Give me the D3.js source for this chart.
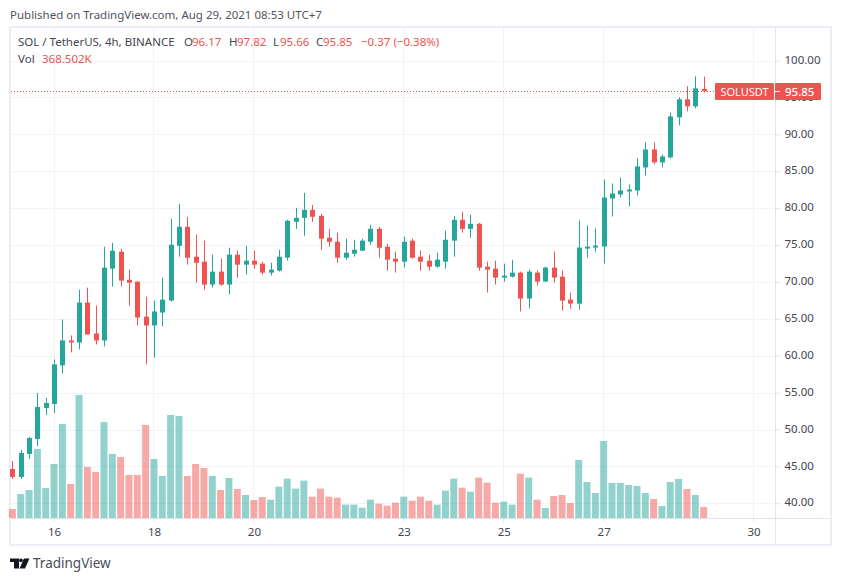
<!DOCTYPE html>
<html>
<head>
<meta charset="utf-8">
<script src="https://cdn.jsdelivr.net/npm/d3@7/dist/d3.min.js"></script>
<style>
  html, body { margin: 0; padding: 0; background: #fff; }
  svg { display: block; }
  text { font-family: "Noto Sans", sans-serif; }
</style>
</head>
<body>
<div id="chart"></div>
<script>
var opens = [44.65,43.57,46.69,48.72,52.92,53.46,58.69,62.07,61.8,67.2,63.02,62.07,71.8,74.1,70.3,70.05,65.3,64.1,65.86,67.48,74.9,77.48,73.42,72.75,69.64,71.4,69.64,73.7,72.34,72.88,72.48,71.26,71.53,73.29,78.15,78.69,79.77,78.96,76,75.45,73.29,73.83,74.23,75.45,77.2,74.77,73.15,72.75,75.6,73.42,72.88,72.07,72.75,75.6,78.42,77.2,77.88,72.07,71.8,70.59,70.72,71.26,67.75,71.27,70.05,71.95,70.72,67.6,67.06,74.52,74.66,74.8,81.31,81.86,82.26,82.4,85.52,87.96,86.2,86.88,92.31,94.75,93.8,96.17];
var highs = [45.74,47.23,48.99,54.95,54.28,59.5,64.91,62.75,68.96,69.23,66.8,74.77,75.3,74.5,71.67,70.05,68,67.48,70.6,78.56,80.58,78.83,76.4,75.6,73.7,73.15,74.64,74.23,74.9,74.23,72.75,72.6,74.37,78.42,80.05,82.07,80.45,79.23,77.2,76.67,75.86,75.72,75.86,77.75,77.48,75.18,74.1,76.13,75.86,74.23,73.69,73.96,76.94,78.96,79.5,79.1,78,72.75,72.88,72.48,73,71.4,71.67,71.54,72.08,74.12,71.54,68.55,78.33,77.65,77.24,83.9,83.35,84.16,83.21,86.74,88.91,88.91,87.29,92.99,95.02,96.52,97.87,97.82];
var lows = [43.3,43.3,46,47.77,51.97,52.24,57.6,60.45,60.86,62.88,61.53,61.26,69.37,69.37,66.8,64.1,58.83,59.77,63.96,67.34,73.42,72.34,69.9,68.96,69.23,69.5,68.3,70.6,71,71.8,70.99,70.86,71.4,72.88,77.2,76.26,78.15,74.37,74.77,72.6,73,73.42,74.23,75.05,73.29,71.53,71.26,71.94,73.15,71.53,71.53,71.94,71.8,73.42,76.67,76,71.53,68.56,69.64,70.05,70.59,66,66.4,69.5,70.05,69.9,66.1,66.38,66.24,73.3,74.12,72.49,78.87,81.45,80.23,81.72,84.43,85.93,85.52,86.74,91.22,93.12,93.53,95.66];
var closes = [43.57,46.82,48.85,53.06,53.6,58.83,62.07,61.8,67.2,62.88,62.07,71.94,74.23,70.18,69.9,65.18,64.1,66,67.6,75.05,77.48,73.29,72.6,69.64,71.4,69.64,73.7,72.34,72.88,72.34,71.26,71.67,73.42,78.29,78.69,79.77,78.83,75.86,75.45,73.29,73.96,74.37,75.6,77.2,74.64,73.02,72.75,75.45,73.29,72.75,72.07,73.02,75.72,78.42,77.2,77.88,71.94,71.67,70.59,70.86,71.26,67.75,71.4,70.05,71.95,70.59,67.47,67.06,74.66,74.8,74.93,81.45,81.99,82.4,82.53,85.66,87.96,86.2,87.01,92.44,94.75,93.8,96.24,95.85];
var volumes = [302,804,938,2312,1005,1809,3150,1139,4122,1709,1541,3217,2145,2044,1441,1441,3116,1977,1407,3452,3418,1407,1809,1675,1407,938,1340,972,771,603,704,614,1050,1318,983,1251,715,983,715,681,447,447,346,614,480,413,514,715,581,715,581,447,916,1318,1016,882,1352,1184,514,547,447,1486,1352,614,335,737,771,503,1944,1206,838,2580,1173,1173,1106,1072,838,637,402,1206,1307,972,771,368.5];

var priceTicks = [40,45,50,55,60,65,70,75,80,85,90,95,100];
var dayTicks = [5,17,29,47,59,71,89];
var dayLabels = ["16","18","20","23","25","27","30"];

var GREEN = "#26a69a", RED = "#ef5350", GRID = "#f0f3fa", FRAME = "#eceef5", LINE = "#e0e3eb", TEXT = "#434651";

var width = 841, height = 581;
var paneLeft = 10, paneRight = 831, paneTop = 27, paneBottom = 545, axisX = 775.5, axisY = 518.5;

var svg = d3.select("#chart").append("svg")
  .attr("width", width)
  .attr("height", height);

var x = d3.scaleLinear().domain([0,83]).range([12.4,703.6]);
var y = d3.scaleLinear().domain([40,100]).range([503.3,60.6]);
// volume pane shares the bottom edge, 368.5K is about 11 px
var yVol = d3.scaleLinear().domain([0,368.5]).range([axisY-0.5,axisY-11.5]);

// frame
svg.append("rect")
  .attr("x", paneLeft).attr("y", paneTop)
  .attr("width", paneRight-paneLeft).attr("height", paneBottom-paneTop)
  .attr("fill", "#fff").attr("stroke", FRAME).attr("stroke-width", 2);

// grid
svg.append("g").selectAll("line").data(priceTicks).join("line")
  .attr("x1", paneLeft+1).attr("x2", axisX)
  .attr("y1", d => Math.round(y(d))+0.5).attr("y2", d => Math.round(y(d))+0.5)
  .attr("stroke", GRID);
svg.append("g").selectAll("line").data(dayTicks).join("line")
  .attr("x1", d => Math.floor(x(d))+0.5).attr("x2", d => Math.floor(x(d))+0.5)
  .attr("y1", paneTop+1).attr("y2", axisY)
  .attr("stroke", GRID);

// volume bars
svg.append("g").selectAll("rect").data(volumes).join("rect")
  .attr("x", (d,i) => x(i)-3.5)
  .attr("y", d => yVol(d))
  .attr("width", 7)
  .attr("height", d => yVol(0)-yVol(d))
  .attr("fill", (d,i) => closes[i] >= opens[i] ? GREEN : RED)
  .attr("fill-opacity", 0.5);

// candles
var candles = svg.append("g").selectAll("g").data(d3.range(opens.length)).join("g")
  .attr("fill", i => closes[i] >= opens[i] ? GREEN : RED)
  .attr("stroke", i => closes[i] >= opens[i] ? GREEN : RED);
candles.append("line")
  .attr("x1", i => Math.round(x(i))+0.5).attr("x2", i => Math.round(x(i))+0.5)
  .attr("y1", i => y(highs[i])).attr("y2", i => y(lows[i]));
candles.append("rect")
  .attr("x", i => Math.round(x(i))-2)
  .attr("y", i => y(Math.max(opens[i],closes[i])))
  .attr("width", 5)
  .attr("height", i => Math.max(1.5, Math.abs(y(opens[i])-y(closes[i]))))
  .attr("stroke", "none");

// axes
var lastClose = closes[closes.length-1];
var yAxis = svg.append("g")
  .attr("transform", "translate(" + axisX + ",0)")
  .call(d3.axisRight(y).tickValues(priceTicks).tickSize(5).tickPadding(4).tickFormat(d3.format(".2f")));
var xAxis = svg.append("g")
  .attr("transform", "translate(0," + axisY + ")")
  .call(d3.axisBottom(x).tickValues(dayTicks).tickSize(4).tickPadding(5).tickFormat((d,i) => dayLabels[i]));
[yAxis, xAxis].forEach(a => {
  a.select(".domain").remove();
  a.selectAll("line").attr("stroke", LINE);
  a.selectAll("text").attr("fill", TEXT).style("font-size", "11.5px").style("font-family", '"Noto Sans", sans-serif');
});
yAxis.selectAll("text").attr("y", -1);
xAxis.selectAll("line").attr("transform", "translate(-0.5,0)");
svg.append("line").attr("x1", axisX).attr("x2", axisX).attr("y1", paneTop+1).attr("y2", paneBottom-1).attr("stroke", LINE);
svg.append("line").attr("x1", paneLeft+1).attr("x2", paneRight-1).attr("y1", axisY).attr("y2", axisY).attr("stroke", LINE);

// last price line and labels
svg.append("line")
  .attr("x1", paneLeft+1).attr("x2", 715)
  .attr("y1", Math.round(y(lastClose))+0.5).attr("y2", Math.round(y(lastClose))+0.5)
  .attr("stroke", RED).attr("stroke-dasharray", "1 2");
svg.append("rect").attr("x", 715).attr("y", 83).attr("width", 59).attr("height", 17).attr("rx", 1).attr("fill", RED);
svg.append("rect").attr("x", 775).attr("y", 83).attr("width", 46).attr("height", 17).attr("rx", 1).attr("fill", RED);
svg.append("line").attr("x1", 775).attr("x2", 780).attr("y1", 91.5).attr("y2", 91.5).attr("stroke", "#fff");
svg.append("text").attr("x", 744.5).attr("y", 95.5).attr("text-anchor", "middle").attr("fill", "#fff").style("font-size", "11px").text("SOLUSDT");
svg.append("text").attr("x", 785).attr("y", 95.5).attr("fill", "#fff").style("font-size", "11.5px").style("font-weight", 500).text(d3.format(".2f")(lastClose));

// header
svg.append("text").attr("x", 10).attr("y", 19).attr("fill", "#50535e").style("font-size", "11.5px")
  .text("Published on TradingView.com, Aug 29, 2021 08:53 UTC+7");

var legend = [
  [18, TEXT, "SOL / TetherUS, 4h, BINANCE"],
  [184, TEXT, "O"], [192, RED, "96.17"],
  [229, TEXT, "H"], [237, RED, "97.82"],
  [273, TEXT, "L"], [280, RED, "95.66"],
  [316, TEXT, "C"], [323, RED, "95.85"],
  [361, RED, "\u22120.37 (\u22120.38%)"]
];
svg.append("g").selectAll("text").data(legend).join("text")
  .attr("x", d => d[0]).attr("y", 46)
  .attr("fill", d => d[1]).style("font-size", "11.5px")
  .text(d => d[2]);
svg.append("text").attr("x", 18).attr("y", 63).attr("fill", TEXT).style("font-size", "11.5px").text("Vol");
svg.append("text").attr("x", 42).attr("y", 63).attr("fill", RED).style("font-size", "11.5px").text("368.502K");

// logo
var logo = svg.append("g").attr("fill", "#131722");
logo.append("path").attr("d", "M10 558.5H19V568.5H14V562H10Z");
logo.append("circle").attr("cx", 21).attr("cy", 560.3).attr("r", 1.9);
logo.append("path").attr("d", "M19.5 568.5L24 558.5H29.5L25 568.5Z");
svg.append("text").attr("x", 33).attr("y", 568).attr("fill", "#4a4e5a").style("font-size", "13.5px").text("TradingView");
</script>
</body>
</html>
